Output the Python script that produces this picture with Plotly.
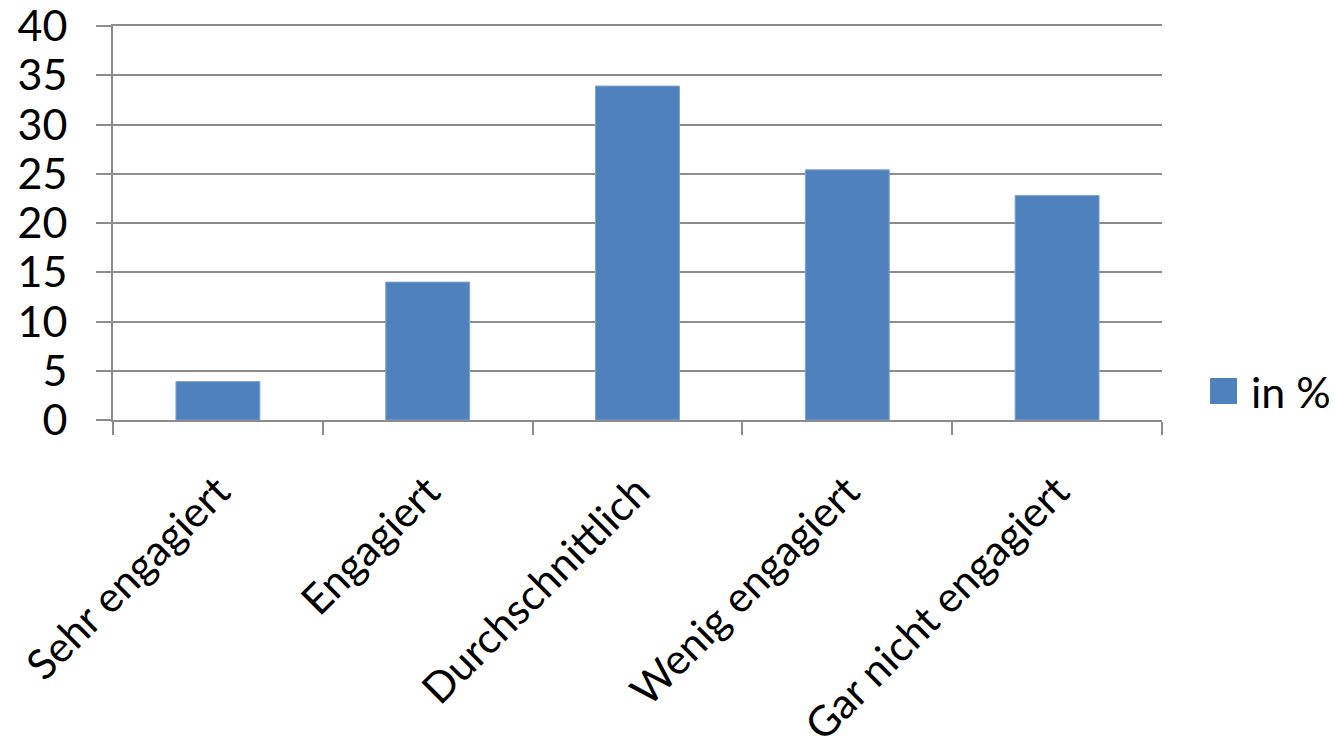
import plotly.graph_objects as go

# Engagement levels and their share in percent
categories = ["Sehr engagiert", "Engagiert", "Durchschnittlich", "Wenig engagiert", "Gar nicht engagiert"]
values = [3.9, 14.0, 33.9, 25.4, 22.8]
series_name = "in %"
y_ticks = [0, 5, 10, 15, 20, 25, 30, 35, 40]

BAR_COLOR = "#4F81BD"
GRID_COLOR = "#8C8C8C"
FONT = "Lato"

fig = go.Figure()
fig.add_trace(go.Bar(
    x=categories,
    y=values,
    name=series_name,
    marker=dict(color=BAR_COLOR, line=dict(color="#7FA3D0", width=1)),
    showlegend=False,
))

fig.update_layout(
    width=1334,
    height=755,
    margin=dict(l=113, r=172, t=26, b=335),
    paper_bgcolor="white",
    plot_bgcolor="white",
    bargap=0.6,
    font=dict(family=FONT, size=43, color="black"),
    xaxis=dict(
        automargin=False,
        ticklabeloverflow="allow",
        showline=True, mirror=True, linecolor=GRID_COLOR, linewidth=2,
        ticks="outside", tickson="boundaries", ticklen=13,
        tickcolor=GRID_COLOR, tickwidth=2,
        tickangle=-45, ticklabelstandoff=28,
        tickfont=dict(family=FONT, size=42, color="black"),
        showgrid=False,
    ),
    yaxis=dict(
        automargin=False,
        ticklabeloverflow="allow",
        range=[0, 40], tickvals=y_ticks,
        showline=True, linecolor=GRID_COLOR, linewidth=2,
        showgrid=True, gridcolor=GRID_COLOR, gridwidth=2,
        ticks="outside", ticklen=15, tickcolor=GRID_COLOR, tickwidth=2,
        ticklabelstandoff=20,
        zeroline=False,
    ),
)

# Legend entry: swatch and label beside the plot
fig.add_shape(type="rect", xref="paper", yref="paper",
              x0=1.0458, x1=1.0715, y0=0.0406, y1=0.1066,
              fillcolor=BAR_COLOR, line=dict(width=0))
fig.add_annotation(xref="paper", yref="paper", x=1.0834, y=0.0736,
                   text=series_name, showarrow=False,
                   xanchor="left", yanchor="middle",
                   font=dict(family=FONT, size=43, color="black"))

fig.write_html("out.html")
